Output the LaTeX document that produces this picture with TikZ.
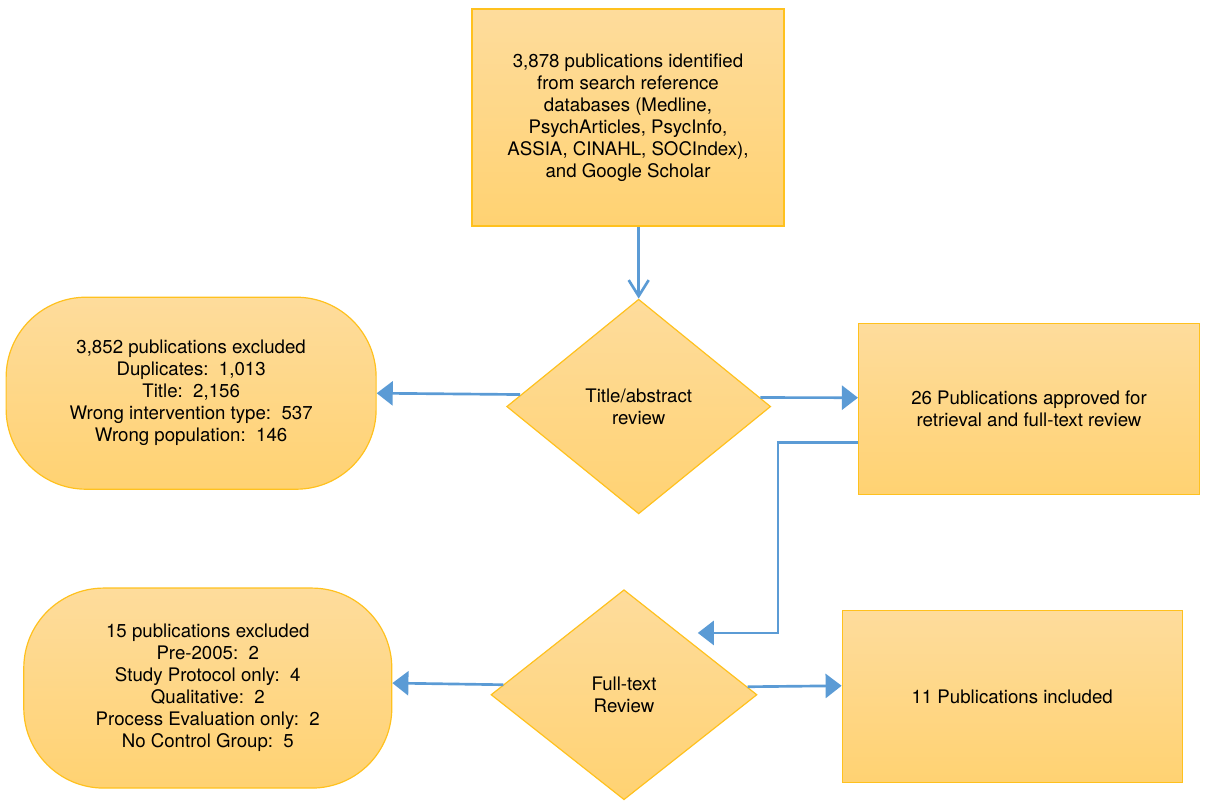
\documentclass[tikz,border=0pt]{standalone}
\usepackage{fontspec}
\setmainfont{TeX Gyre Heros}
\usepackage{xcolor}
\definecolor{prtop}{HTML}{FEDC9C}
\definecolor{prbot}{HTML}{FFD272}
\definecolor{prgold}{HTML}{FFC11E}
\definecolor{prblue}{HTML}{5B9BD5}
\usepackage{tikz}
\usetikzlibrary{arrows.meta,positioning,shapes.geometric,calc}

\begin{document}
\begin{tikzpicture}[x=0.75pt, y=-0.75pt,
  stage/.style={draw=prgold, line width=0.9pt, top color=prtop, bottom color=prbot,
                align=center, inner sep=4pt,
                font=\fontsize{14}{16.5}\selectfont},
  recbox/.style={stage, rectangle},
  excl/.style={stage, rectangle, rounded corners=60pt},
  review/.style={stage, diamond, inner sep=0pt},
  arr/.style={-{Triangle[length=12pt, width=18pt]}, line width=2pt, color=prblue},
  openarr/.style={-{Straight Barb[length=12pt, width=15pt]}, line width=2pt, color=prblue}
]
  \useasboundingbox (0,0) rectangle (1206,800);

  \node[recbox, minimum width=234pt, minimum height=162.75pt] (src) at (628,117.5)
    {3,878 publications identified\\from search reference\\databases (Medline,\\PsychArticles, PsycInfo,\\ASSIA, CINAHL, SOCIndex),\\and Google Scholar};
  \node[review, minimum width=198pt, minimum height=161pt, below=54pt of src, xshift=8pt] (d1)
    {Title/abstract\\review};
  \node[excl, minimum width=277.5pt, minimum height=144pt, left=97pt of d1, yshift=10pt] (ex1)
    {3,852 publications excluded\\Duplicates:~~1,013\\Title:~~2,156\\Wrong intervention type:~~537\\Wrong population:~~146};
  \node[recbox, minimum width=255.75pt, minimum height=128.25pt, right=65pt of d1, yshift=-2pt] (appr)
    {26 Publications approved for\\retrieval and full-text review};
  \node[review, minimum width=199.5pt, minimum height=157.5pt, below=56pt of d1, xshift=-11pt] (d2)
    {Full-text\\Review};
  \node[excl, minimum width=276pt, minimum height=150pt, left=73.5pt of d2, yshift=5pt] (ex2)
    {15 publications excluded\\Pre-2005:~~2\\Study Protocol only:~~4\\Qualitative:~~2\\Process Evaluation only:~~2\\No Control Group:~~5};
  \node[recbox, minimum width=255pt, minimum height=129pt, right=63pt of d2, yshift=-1.5pt] (incl)
    {11 Publications included};

  \draw[openarr] (src.south -| d1.north) -- (d1.north);
  \draw[arr] ($(d1.west)+(14,-12)$) -- (ex1.east);
  \draw[arr] ($(d1.east)+(-11,-9)$) -- ($(appr.west)+(0,-11.5)$);
  \draw[arr] ($(appr.west)+(0,33.5)$) -- ++(-80,0) |- ($(d2.north east)+(7,-9)$);
  \draw[arr] ($(d2.west)+(13,-10)$) -- ($(ex2.east)+(0,-5)$);
  \draw[arr] ($(d2.east)+(-10,-8)$) -- ($(incl.west)+(0,-11)$);
\end{tikzpicture}
\end{document}
